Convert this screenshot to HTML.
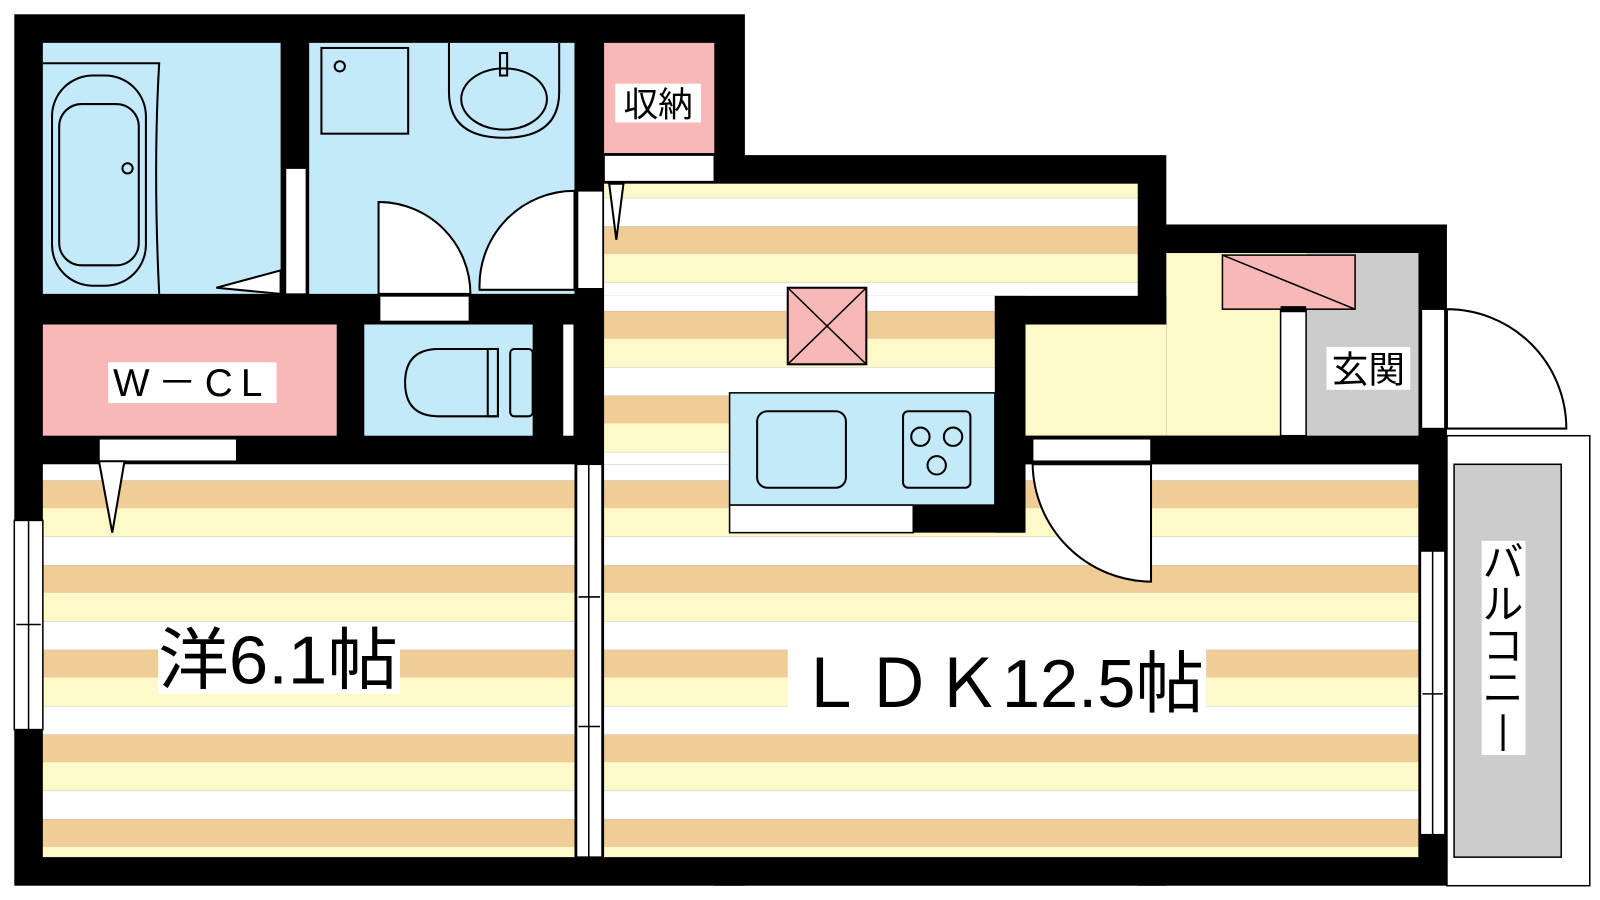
<!DOCTYPE html>
<html><head><meta charset="utf-8"><style>
html,body{margin:0;padding:0;background:#fff;}
svg{display:block}
text{font-family:"Liberation Sans","Noto Sans CJK JP",sans-serif;fill:#000}
</style></head><body>
<svg width="1600" height="900" viewBox="0 0 1600 900" xmlns="http://www.w3.org/2000/svg">
<defs>
<pattern id="st" patternUnits="userSpaceOnUse" x="0" y="0" width="1600" height="83">
<rect x="0" y="0" width="1600" height="28" fill="#fff8c8"/>
<rect x="0" y="28" width="1600" height="28" fill="#ffffff"/>
<rect x="0" y="56" width="1600" height="27" fill="#f0cc96"/>
</pattern>
</defs>
<g transform="scale(1.0204)">
<!-- outer walls black base -->
<rect x="14" y="14" width="716" height="854" fill="#000"/>
<rect x="700" y="152" width="443" height="716" fill="#000"/>
<rect x="1115" y="220" width="303" height="648" fill="#000"/>
<!-- bath -->
<rect x="42" y="42" width="233" height="246" fill="#c4e9f9"/>
<rect x="280" y="165" width="20" height="123" fill="#fff" stroke="#000" stroke-width="1"/>
<rect x="303" y="42" width="260" height="246" fill="#c4e9f9"/>
<!-- storage -->
<rect x="592" y="42" width="108" height="108" fill="#f8b8b8"/>
<rect x="592" y="152" width="108" height="26" fill="#fff" stroke="#000" stroke-width="1.5"/>
<!-- WCL -->
<rect x="42" y="318" width="288" height="109" fill="#f8b8b8"/>
<rect x="357" y="318" width="165" height="109" fill="#c4e9f9"/>
<rect x="552" y="318" width="10" height="109" fill="#fff"/>
<rect x="372" y="290" width="88" height="25" fill="#fff" stroke="#000" stroke-width="1.5"/>
<rect x="97" y="430" width="135" height="22" fill="#fff" stroke="#000" stroke-width="1.5"/>
<!-- bedroom -->
<rect x="42" y="455" width="521" height="385" fill="url(#st)"/>
<!-- LDK -->
<rect x="592" y="180" width="523" height="110" fill="url(#st)"/>
<rect x="592" y="290" width="383" height="165" fill="url(#st)"/>
<rect x="592" y="455" width="798" height="385" fill="url(#st)"/>
<!-- entry -->
<rect x="1143" y="248" width="247" height="179" fill="#fff8c8"/>
<rect x="1005" y="318" width="138" height="109" fill="#fff8c8"/>
<rect x="1280" y="248" width="110" height="179" fill="#ccc"/>
<!-- internal wall step -->
<rect x="975" y="290" width="30" height="232" fill="#000"/>
<rect x="975" y="290" width="168" height="28" fill="#000"/>
<rect x="1005" y="427" width="413" height="28" fill="#000"/>
<rect x="1198" y="250" width="130" height="53" fill="#f8b8b8" stroke="#000" stroke-width="1.5"/>
<line x1="1198" y1="250" x2="1328" y2="303" stroke="#000" stroke-width="1.5"/>
<rect x="1255" y="303" width="25" height="124" fill="#fff" stroke="#000" stroke-width="1.5"/>
<rect x="1255" y="300" width="25" height="6" fill="#000"/>
<rect x="1012" y="430" width="116" height="22" fill="#fff" stroke="#000" stroke-width="1.5"/>
<!-- kitchen -->
<rect x="715" y="385" width="260" height="110" fill="#c4e9f9" stroke="#000" stroke-width="1.5"/>
<rect x="715" y="495" width="180" height="27" fill="#fff" stroke="#000" stroke-width="1.5"/>
<rect x="895" y="495" width="110" height="27" fill="#000"/>
<rect x="742" y="403" width="87" height="75" rx="10" fill="none" stroke="#000" stroke-width="2"/>
<rect x="885" y="403" width="66" height="75" rx="5" fill="none" stroke="#000" stroke-width="2"/>
<circle cx="902" cy="428" r="9" fill="none" stroke="#000" stroke-width="2"/>
<circle cx="934" cy="428" r="9" fill="none" stroke="#000" stroke-width="2"/>
<circle cx="918" cy="456" r="9" fill="none" stroke="#000" stroke-width="2"/>
<!-- fan -->
<rect x="772" y="282" width="77" height="75" fill="#f8b8b8" stroke="#000" stroke-width="2"/>
<line x1="772" y1="282" x2="849" y2="357" stroke="#000" stroke-width="1.5"/>
<line x1="849" y1="282" x2="772" y2="357" stroke="#000" stroke-width="1.5"/>
<!-- sliding doors between bedroom and LDK -->
<rect x="565" y="455" width="25" height="385" fill="#fff" stroke="#000" stroke-width="1.5"/>
<line x1="577" y1="455" x2="577" y2="840" stroke="#000" stroke-width="1.5"/>
<line x1="567" y1="585" x2="588" y2="585" stroke="#000" stroke-width="1.5"/>
<line x1="567" y1="712" x2="588" y2="712" stroke="#000" stroke-width="1.5"/>
<!-- left window -->
<rect x="14" y="510" width="28" height="205" fill="#fff" stroke="#000" stroke-width="1.5"/>
<line x1="28" y1="510" x2="28" y2="715" stroke="#000" stroke-width="1.5"/>
<line x1="16" y1="612" x2="40" y2="612" stroke="#000" stroke-width="1.5"/>
<!-- right window -->
<rect x="1392" y="540" width="24" height="278" fill="#fff" stroke="#000" stroke-width="1.5"/>
<line x1="1404" y1="540" x2="1404" y2="818" stroke="#000" stroke-width="1.5"/>
<line x1="1394" y1="680" x2="1414" y2="680" stroke="#000" stroke-width="1.5"/>
<!-- doorway between washroom and LDK -->
<rect x="566" y="187" width="25" height="96" fill="#fff" stroke="#000" stroke-width="1.5"/>
<!-- entrance door jamb -->
<rect x="1393" y="303" width="23" height="117" fill="#fff" stroke="#000" stroke-width="1.5"/>
<!-- balcony -->
<rect x="1418" y="427" width="140" height="441" fill="#fff" stroke="#000" stroke-width="1.5"/>
<rect x="1425" y="455" width="105" height="385" fill="#ccc" stroke="#000" stroke-width="1.5"/>
<!-- door arcs -->
<g fill="#fff" stroke="#000" stroke-width="2">
<path d="M371 288 L371 198 A90 90 0 0 1 461 288 Z"/>
<path d="M563 284 L470 284 A93 93 0 0 1 563 187 Z"/>
<path d="M1418 303 A117 117 0 0 1 1535 420 L1418 420 Z"/>
<path d="M1128 455 L1128 570 A117 117 0 0 1 1012 455 Z"/>
<path d="M212 282 L275 265 L275 288 Z"/>
<path d="M597 180 L611 180 L604 235 Z"/>
<path d="M97 452 L122 452 L110 522 Z"/>
</g>
<!-- bathtub etc -->
<g fill="none" stroke="#000" stroke-width="2">
<path d="M42 62 L156 62 Q150 165 156 288"/>
<rect x="51" y="74" width="92" height="206" rx="40"/>
<rect x="58" y="102" width="78" height="158" rx="22"/>
<circle cx="125" cy="165" r="5"/>
<rect x="315" y="47" width="85" height="84"/>
<circle cx="333" cy="65" r="5"/>
<path d="M440 42 L440 90 Q440 135 494 135 Q548 135 548 90 L548 42"/>
<ellipse cx="494" cy="97" rx="42" ry="30"/>
<rect x="490" y="52" width="7" height="22"/>
<path d="M488 342 L430 342 Q397 342 397 375 Q397 408 430 408 L488 408 Z"/>
<rect x="478" y="342" width="10" height="66"/>
<rect x="500" y="342" width="22" height="66" rx="4"/>
</g>
<!-- labels -->
<rect x="603" y="82" width="84" height="38" fill="#fff"/>
<text x="645" y="114" font-size="34" text-anchor="middle">収納</text>
<rect x="106" y="355" width="165" height="40" fill="#fff"/>
<text x="188" y="388" font-size="38" text-anchor="middle" letter-spacing="8">W－CL</text>
<rect x="1300" y="340" width="82" height="42" fill="#fff"/>
<text x="1341" y="375" font-size="36" text-anchor="middle">玄関</text>
<rect x="155" y="610" width="237" height="70" fill="#fff"/>
<text x="155" y="670" font-size="66" textLength="235" lengthAdjust="spacingAndGlyphs">洋6.1帖</text>
<rect x="772" y="635" width="410" height="66" fill="#fff"/>
<text x="780" y="693" font-size="66" textLength="400" lengthAdjust="spacingAndGlyphs">ＬＤＫ12.5帖</text>
<rect x="1452" y="530" width="43" height="210" fill="#fff"/>
<g font-size="40" text-anchor="middle">
<text x="1473" y="565">バ</text>
<text x="1473" y="606">ル</text>
<text x="1473" y="647">コ</text>
<text x="1473" y="688">ニ</text>
</g>
<line x1="1473" y1="700" x2="1473" y2="736" stroke="#000" stroke-width="3"/>
</g>
</svg>
</body></html>
